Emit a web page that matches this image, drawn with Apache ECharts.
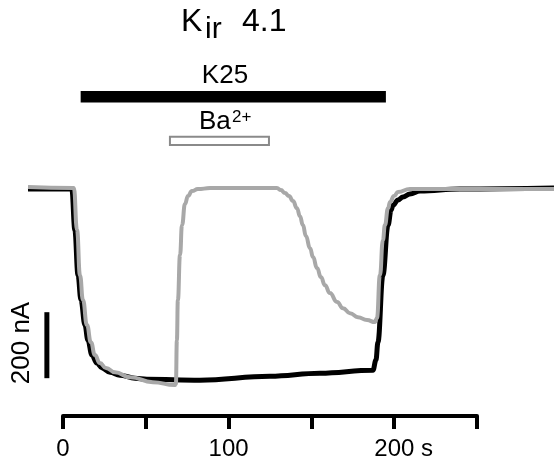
<!DOCTYPE html>
<html>
<head>
<meta charset="utf-8">
<script src="https://cdn.jsdelivr.net/npm/echarts@6/dist/echarts.min.js"></script>
<style>
  html, body { margin: 0; padding: 0; background: #fff; }
  #chart { width: 554px; height: 463px; }
</style>
</head>
<body>
<div id="chart"></div>
<script>
// time in s, current in nA (0 = holding current before K25)
var blackTime = [-21.1, 5.4, 7.2, 9.1, 10.9, 13.3, 15.1, 17.5, 20.5, 23.6, 28.4, 34.4, 43.5, 50.7, 82.7, 125.0, 155.2, 187.2, 189.0, 190.2, 193.2, 196.3, 198.1, 199.3, 202.3, 205.3, 209.5, 215.6, 239.7, 296.5];
var blackCurrent = [-3, -3, -127, -264, -339, -415, -461, -506, -530, -545, -558, -567, -576, -579, -582, -570, -561, -552, -521, -467, -264, -112, -67, -52, -36, -27, -18, -9, -3, 0];

var grayTime = [-21.1, 6.6, 8.5, 10.3, 12.1, 14.5, 16.9, 19.3, 22.3, 26.0, 31.4, 40.5, 54.3, 67.6, 68.2, 68.8, 69.4, 70.7, 71.9, 73.7, 75.5, 77.9, 81.5, 88.8, 129.2, 131.6, 134.1, 136.5, 138.9, 141.3, 143.1, 144.9, 146.7, 149.2, 151.0, 153.4, 155.8, 158.2, 161.2, 165.5, 169.1, 173.3, 178.1, 183.6, 188.4, 189.6, 191.4, 193.2, 194.4, 196.3, 197.5, 199.9, 202.3, 209.5, 296.5];
var grayCurrent = [3, 0, -127, -264, -339, -415, -467, -506, -530, -545, -558, -573, -588, -597, -594, -461, -339, -203, -112, -48, -24, -9, -3, 0, 0, -6, -15, -24, -39, -61, -85, -112, -145, -182, -209, -242, -270, -294, -318, -345, -364, -379, -391, -400, -406, -394, -264, -158, -112, -61, -42, -24, -12, -3, -3];

// application periods (s)
var k25Span = [10.7, 195];
var baSpan = [64, 125];

// 200 nA scale bar
var scaleBarTime = -9.7;
var scaleBarCurrent = [-376, -576];

var tickLabels = { 0: '0', 100: '100', 200: '200' };

function pairs(xs, ys) {
  return xs.map(function (x, i) { return [x, ys[i]]; });
}

var font = "'Liberation Sans', Arial, sans-serif";

var chart = echarts.init(document.getElementById('chart'));

var option = {
  animation: false,
  backgroundColor: '#fff',
  grid: [
    { left: 0, right: 0, top: 0, bottom: 0 },
    { left: 63, right: 77, top: 400, bottom: 47 }
  ],
  xAxis: [
    { gridIndex: 0, type: 'value', min: -38, max: 296.5, show: false },
    {
      gridIndex: 1, type: 'value', min: 0, max: 250, interval: 50,
      axisLine: { show: true, lineStyle: { color: '#000', width: 4 } },
      axisTick: { show: true, length: 13, lineStyle: { color: '#000', width: 4 } },
      splitLine: { show: false },
      axisLabel: {
        margin: 21,
        color: '#000',
        fontSize: 24,
        fontFamily: font,
        formatter: function (v) {
          if (v === 200) return '{p|}' + tickLabels[v] + ' s';
          return tickLabels[v] || '';
        },
        rich: { p: { width: 19 } }
      }
    }
  ],
  yAxis: [
    { gridIndex: 0, type: 'value', min: -833, max: 570, show: false },
    { gridIndex: 1, type: 'value', min: 0, max: 1, show: false }
  ],
  series: [
    {
      name: 'K25',
      type: 'line',
      xAxisIndex: 0, yAxisIndex: 0,
      data: pairs(blackTime, blackCurrent),
      showSymbol: false,
      smooth: 0.4,
      smoothMonotone: 'x',
      lineStyle: { color: '#000', width: 5 },
      z: 2
    },
    {
      name: 'K25 + Ba',
      type: 'line',
      xAxisIndex: 0, yAxisIndex: 0,
      data: pairs(grayTime, grayCurrent),
      showSymbol: false,
      smooth: 0.5,
      smoothMonotone: 'x',
      lineStyle: { color: '#a8a8a8', width: 4 },
      z: 3
    },
    {
      name: 'scale',
      type: 'line',
      xAxisIndex: 0, yAxisIndex: 0,
      data: [[scaleBarTime, scaleBarCurrent[0]], [scaleBarTime, scaleBarCurrent[1]]],
      showSymbol: false,
      lineStyle: { color: '#000', width: 5, cap: 'butt' }
    },
    {
      name: 'k25bar',
      type: 'custom',
      xAxisIndex: 0, yAxisIndex: 0,
      encode: { x: [0, 1] },
      data: [k25Span],
      renderItem: function (params, api) {
        var x0 = api.coord([api.value(0), 0])[0];
        var x1 = api.coord([api.value(1), 0])[0];
        return { type: 'rect', shape: { x: x0, y: 91, width: x1 - x0, height: 11.5 }, style: { fill: '#000' } };
      }
    },
    {
      name: 'babar',
      type: 'custom',
      xAxisIndex: 0, yAxisIndex: 0,
      encode: { x: [0, 1] },
      data: [baSpan],
      renderItem: function (params, api) {
        var x0 = api.coord([api.value(0), 0])[0];
        var x1 = api.coord([api.value(1), 0])[0];
        return { type: 'rect', shape: { x: x0 + 1, y: 136.7, width: x1 - x0 - 2, height: 8.3 }, style: { fill: '#fff', stroke: '#8a8a8a', lineWidth: 2 } };
      }
    }
  ],
  graphic: [
    { type: 'text', x: 181, y: 22, style: { text: 'K', fontSize: 32, fontFamily: font, fill: '#000', align: 'left', verticalAlign: 'middle' } },
    { type: 'text', x: 205, y: 30, style: { text: 'ir', fontSize: 30, fontFamily: font, fill: '#000', align: 'left', verticalAlign: 'middle' } },
    { type: 'text', x: 242, y: 22, style: { text: '4.1', fontSize: 32, fontFamily: font, fill: '#000', align: 'left', verticalAlign: 'middle' } },
    { type: 'text', x: 225, y: 76, style: { text: 'K25', fontSize: 26, fontFamily: font, fill: '#000', align: 'center', verticalAlign: 'middle' } },
    { type: 'text', x: 199, y: 121.5, style: { text: 'Ba', fontSize: 26, fontFamily: font, fill: '#000', align: 'left', verticalAlign: 'middle' } },
    { type: 'text', x: 232, y: 117, style: { text: '2+', fontSize: 17, fontFamily: font, fill: '#000', align: 'left', verticalAlign: 'middle' } },
    { type: 'text', x: 22, y: 343, rotation: Math.PI / 2, style: { text: '200 nA', fontSize: 26, fontFamily: font, fill: '#000', align: 'center', verticalAlign: 'middle' } }
  ]
};

chart.setOption(option);
</script>
</body>
</html>
